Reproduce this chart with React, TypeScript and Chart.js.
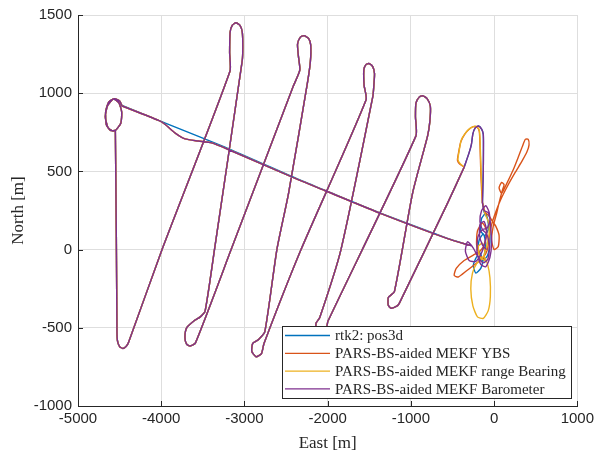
import React, { useEffect, useRef } from "react";
import { Chart, registerables } from "chart.js";

Chart.register(...registerables);

// ---------- axes ----------
const xMin = -5000;
const xMax = 1000;
const yMin = -1000;
const yMax = 1500;
const xTicks = [-5000, -4000, -3000, -2000, -1000, 0, 1000];
const yTicks = [-1000, -500, 0, 500, 1000, 1500];
const xLabel = "East [m]";
const yLabel = "North [m]";

// ---------- series ----------
const seriesNames = [
  "rtk2: pos3d",
  "PARS-BS-aided MEKF YBS",
  "PARS-BS-aided MEKF range Bearing",
  "PARS-BS-aided MEKF Barometer",
];
const seriesColors = ["#0072BD", "#D95319", "#EDB120", "#7E2F8E"];

// [East, North] waypoints in metres
// transit from the harbour cluster to the north-west start point
const transitRtk: number[][] = [
  [-280, 25], [-559, 72], [-1358, 232], [-2036, 380], [-2355, 450],
  [-3194, 646], [-4032, 826], [-4470, 922],
];
const transitEst: number[][] = [
  [-280, 25], [-559, 70], [-1358, 230], [-2036, 378], [-2355, 447],
  [-3194, 640], [-3394, 682], [-3553, 694], [-3713, 708], [-3832, 745],
  [-3952, 800], [-4032, 826], [-4470, 918],
];
// loiter circle at the start point
const startLoop: number[][] = [
  [-4470, 918], [-4500, 950], [-4560, 965], [-4630, 945], [-4668, 880],
  [-4660, 800], [-4610, 762], [-4545, 765], [-4485, 810], [-4475, 880],
  [-4510, 940], [-4575, 962], [-4645, 920], [-4672, 850], [-4640, 780],
  [-4580, 758], [-4551, 760],
];
// lawn-mower survey legs
const surveyLegs: number[][] = [
  [-4532, -520],
  [-4525, -585], [-4500, -620], [-4460, -632], [-4420, -618], [-4392, -592],
  [-3990, 0], [-3174, 1140],
  [-3178, 1260], [-3172, 1390], [-3145, 1435], [-3102, 1450], [-3052, 1432],
  [-3026, 1390], [-3020, 1300], [-3026, 1210],
  [-3360, 0], [-3473, -394],
  [-3530, -430], [-3593, -450], [-3693, -499], [-3715, -560], [-3695, -605],
  [-3653, -616], [-3590, -598],
  [-3160, 0], [-2416, 1041],
  [-2335, 1147], [-2352, 1240], [-2362, 1314], [-2330, 1357], [-2284, 1368],
  [-2230, 1350], [-2204, 1310], [-2208, 1200], [-2244, 1063],
  [-2470, 360], [-2610, 0], [-2755, -525],
  [-2830, -575], [-2900, -600], [-2912, -650], [-2860, -685], [-2795, -665],
  [-2765, -600],
  [-2320, 0], [-1538, 958],
  [-1562, 1050], [-1565, 1150], [-1540, 1183], [-1505, 1190], [-1460, 1172],
  [-1437, 1126], [-1445, 1050], [-1457, 979],
  [-1840, 0], [-2096, -436],
  [-2140, -470], [-2135, -520], [-2080, -540], [-2015, -500], [-1996, -457],
  [-939, 727],
  [-945, 850], [-939, 937], [-900, 975], [-859, 984], [-805, 965], [-766, 916],
  [-772, 820], [-799, 727],
  [-980, 360], [-1198, -269],
  [-1270, -305], [-1272, -355], [-1238, -375], [-1170, -362], [-1138, -342],
  [-559, 297], [-359, 528],
];
// last northern turn
const turnRtk: number[][] = [
  [-359, 528], [-300, 620], [-272, 675], [-255, 740], [-225, 780],
  [-188, 790], [-150, 770], [-130, 737], [-128, 650], [-130, 500],
  [-135, 400], [-140, 300],
];
const turnYbs: number[][] = [
  [-359, 528], [-410, 545], [-440, 570], [-430, 610], [-400, 690],
  [-350, 740], [-300, 770], [-250, 786], [-205, 782], [-178, 755],
  [-168, 650], [-160, 500], [-150, 380], [-140, 300],
];
const turnRange: number[][] = [
  [-359, 528], [-405, 548], [-435, 575], [-425, 615], [-395, 700],
  [-345, 745], [-290, 775], [-240, 788], [-200, 784], [-175, 755],
  [-165, 640], [-155, 480], [-145, 380], [-140, 300],
];
// manoeuvres around the harbour
const clusterRtk: number[][] = [
  [-140, 300], [-120, 240], [-80, 200], [-70, 130], [-110, 90], [-160, 120],
  [-150, 200], [-100, 230], [-60, 150], [-50, 50], [-80, -40], [-140, -70],
  [-200, -40], [-250, -100], [-220, -150], [-160, -120], [-120, -40],
  [-100, 40], [-130, 100], [-180, 60], [-190, 0], [-150, -40],
];
const clusterYbs: number[][] = [
  [-140, 300], [-110, 240], [-60, 215], [-20, 180], [20, 150], [60, 90],
  [50, 20], [0, 0], [-30, 60], [-10, 150], [30, 230], [60, 300], [100, 380],
  [120, 415], [90, 430], [60, 395], [90, 360], [150, 420], [230, 510],
  [290, 590], [340, 660], [375, 705], [410, 705], [420, 670], [395, 625],
  [340, 570], [250, 490], [160, 405], [80, 320], [20, 240], [-30, 160],
  [-60, 80], [-80, 0], [-130, -50], [-220, -90], [-330, -135], [-430, -175],
  [-480, -165], [-455, -120], [-360, -70], [-250, -35], [-170, -10],
  [-110, 40], [-90, 120], [-140, 170], [-200, 120], [-210, 30], [-170, -40],
  [-100, -60],
];
const clusterRange: number[][] = [
  [-140, 300], [-110, 230], [-70, 180], [-60, 100], [-90, 20], [-120, -40],
  [-80, -90], [-50, -180], [-45, -300], [-70, -390], [-130, -440],
  [-200, -430], [-255, -360], [-280, -250], [-260, -150], [-210, -90],
  [-150, -60], [-110, -20], [-140, 40], [-190, 20], [-170, -50], [-110, -70],
];
const clusterBaro: number[][] = [
  [-140, 300], [-120, 250], [-70, 235], [-50, 190], [-80, 140], [-140, 130],
  [-170, 180], [-150, 250], [-100, 280], [-60, 240], [-40, 140], [-30, 40],
  [-50, -50], [-100, -110], [-160, -95], [-205, -20], [-195, 80], [-145, 125],
  [-85, 95], [-55, 20], [-75, -60], [-130, -85], [-190, -50], [-250, 10],
  [-320, 50], [-345, -10], [-300, -70], [-220, -75], [-150, -20], [-110, 50],
  [-90, 120], [-120, 180], [-170, 160], [-175, 90], [-140, 30], [-90, 0],
];

const seriesPaths: number[][][][] = [
  [transitRtk, startLoop, surveyLegs, turnRtk, clusterRtk],
  [transitEst, startLoop, surveyLegs, turnYbs, clusterYbs],
  [transitEst, startLoop, surveyLegs, turnRange, clusterRange],
  [transitEst, startLoop, surveyLegs, turnRtk, clusterBaro],
];

const toXY = (parts: number[][][]) =>
  parts.flat().map(([x, y]) => ({ x, y }));

const AXIS_COLOR = "#262626";
const GRID_COLOR = "#dedede";

const inwardTicks = {
  id: "inwardTicks",
  afterDatasetsDraw(chart: any) {
    const { ctx, chartArea: a, scales } = chart;
    ctx.save();
    ctx.strokeStyle = AXIS_COLOR;
    ctx.lineWidth = 1;
    ctx.beginPath();
    xTicks.forEach((v) => {
      const px = Math.round(scales.x.getPixelForValue(v)) + 0.5;
      ctx.moveTo(px, a.bottom);
      ctx.lineTo(px, a.bottom - 5);
    });
    yTicks.forEach((v) => {
      const py = Math.round(scales.y.getPixelForValue(v)) + 0.5;
      ctx.moveTo(a.left, py);
      ctx.lineTo(a.left + 5, py);
    });
    ctx.stroke();
    ctx.restore();
  },
};

const boxLegend = {
  id: "boxLegend",
  afterDraw(chart: any) {
    const { ctx, chartArea: a } = chart;
    const x0 = a.left + 204;
    const y0 = a.top + 311;
    const w = 290;
    const h = 73;
    ctx.save();
    ctx.fillStyle = "#ffffff";
    ctx.fillRect(x0, y0, w, h);
    ctx.strokeStyle = AXIS_COLOR;
    ctx.lineWidth = 1;
    ctx.strokeRect(x0 + 0.5, y0 + 0.5, w - 1, h - 1);
    ctx.font = '15px "Liberation Serif", "Times New Roman", serif';
    ctx.textBaseline = "middle";
    ctx.textAlign = "left";
    seriesNames.forEach((name, i) => {
      const y = y0 + 9.5 + i * 17.8;
      ctx.strokeStyle = seriesColors[i];
      ctx.lineWidth = 1.3;
      ctx.beginPath();
      ctx.moveTo(x0 + 3, y);
      ctx.lineTo(x0 + 48, y);
      ctx.stroke();
      ctx.fillStyle = AXIS_COLOR;
      ctx.fillText(name, x0 + 53, y + 1);
    });
    ctx.restore();
  },
};

export default function App() {
  const ref = useRef<HTMLCanvasElement | null>(null);

  useEffect(() => {
    if (!ref.current) return;
    const datasets = seriesPaths.map((parts, i) => ({
      label: seriesNames[i],
      data: toXY(parts),
      borderColor: seriesColors[i],
      backgroundColor: seriesColors[i],
      borderWidth: 1.4,
      pointRadius: 0,
      showLine: true,
      fill: false,
      tension: 0.2,
      order: 4 - i,
    }));
    const tickFont = { family: '"Liberation Sans", Arial, sans-serif', size: 15 };
    const titleFont = { family: '"Liberation Serif", "Times New Roman", serif', size: 17 };
    const chart = new Chart(ref.current, {
      type: "scatter",
      data: { datasets },
      options: {
        animation: false,
        responsive: false,
        devicePixelRatio: 1,
        layout: { padding: { left: 0, right: 18, top: 9, bottom: 0 } },
        plugins: { legend: { display: false }, tooltip: { enabled: false } },
        scales: {
          x: {
            type: "linear",
            min: xMin,
            max: xMax,
            afterBuildTicks: (s: any) => {
              s.ticks = xTicks.map((v) => ({ value: v }));
            },
            afterFit: (s: any) => {
              s.height = 50;
            },
            ticks: {
              color: AXIS_COLOR,
              font: tickFont,
              padding: 4,
              maxRotation: 0,
              callback: (v: any) => String(v),
            },
            grid: { color: GRID_COLOR, drawTicks: false, lineWidth: 1 },
            border: { display: true, color: AXIS_COLOR, width: 1 },
            title: {
              display: true,
              text: xLabel,
              color: AXIS_COLOR,
              font: titleFont,
              padding: { top: 0, bottom: 2 },
            },
          },
          y: {
            type: "linear",
            min: yMin,
            max: yMax,
            afterBuildTicks: (s: any) => {
              s.ticks = yTicks.map((v) => ({ value: v }));
            },
            afterFit: (s: any) => {
              s.width = 78;
            },
            ticks: {
              color: AXIS_COLOR,
              font: tickFont,
              padding: 6,
              callback: (v: any) => String(v),
            },
            grid: { color: GRID_COLOR, drawTicks: false, lineWidth: 1 },
            border: { display: true, color: AXIS_COLOR, width: 1 },
            title: {
              display: true,
              text: yLabel,
              color: AXIS_COLOR,
              font: titleFont,
              padding: { top: 8, bottom: 0 },
            },
          },
        },
      },
      plugins: [inwardTicks, boxLegend],
    });
    return () => chart.destroy();
  }, []);

  return (
    <div
      style={{
        position: "fixed",
        left: 0,
        top: 0,
        width: 598,
        height: 456,
        background: "#ffffff",
      }}
    >
      <canvas ref={ref} width={598} height={456} style={{ display: "block" }} />
    </div>
  );
}
